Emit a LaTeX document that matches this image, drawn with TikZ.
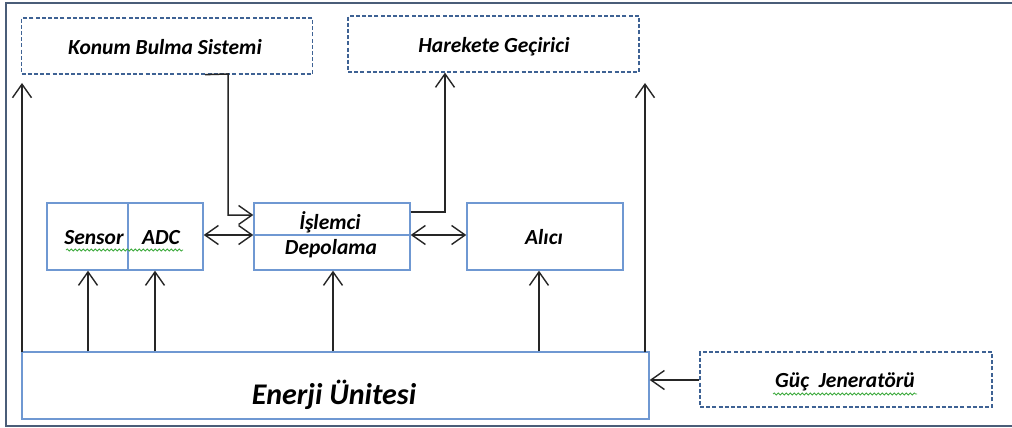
\documentclass[tikz,border=0pt]{standalone}
\usepackage{fontspec}
\setmainfont{Carlito}
\usetikzlibrary{arrows.meta,decorations.pathmorphing}

\definecolor{framecol}{HTML}{4A5D78}
\definecolor{boxcol}{HTML}{6F98D2}
\definecolor{dashcol}{HTML}{3E6294}
\definecolor{squig}{HTML}{3DAA3D}

\tikzset{
  solidbox/.style={draw=boxcol, line width=1.4pt, inner sep=0pt},
  dashbox/.style={draw=dashcol, line width=1.3pt, dash pattern=on 4pt off 2.2pt, inner sep=0pt},
  lbl/.style={font=\fontsize{21.5}{24}\selectfont\bfseries\itshape},
  conn/.style={line width=1.5pt, draw=black!85},
  barb/.tip={Straight Barb[length=13.5pt,width=19pt,line width=1.4pt]},
  tip/.style={-barb},
  dtip/.style={barb-barb},
  spell/.style={draw=squig, line width=0.8pt, decorate,
    decoration={snake, amplitude=1pt, segment length=4pt}},
}

\begin{document}
\begin{tikzpicture}[x=1pt, y=-1pt]
  \useasboundingbox (0,0) rectangle (1012,428);
  \fill[white] (0,0) rectangle (1012,428);

  % outer frame (open on the right side)
  \draw[framecol, line width=2pt] (1014,3) -- (6,3) -- (6,425.5) -- (1014,425.5);

  % dashed outer blocks
  \node[dashbox, minimum width=291pt, minimum height=56pt] (konum) at (167,46) {};
  \node[lbl] at (165,47) {Konum Bulma Sistemi};
  \node[dashbox, minimum width=291pt, minimum height=56pt] (hareket) at (493.5,44) {};
  \node[lbl] at (494,47) {Harekete Geçirici};
  \node[dashbox, minimum width=292pt, minimum height=55pt] (guc) at (846,379.5) {};
  \node[lbl] (guct) at (845,382) {Güç\ \ Jeneratörü};

  % solid blocks
  \node[solidbox, minimum width=81pt, minimum height=67pt] (sensor) at (87.5,236.5) {};
  \node[solidbox, minimum width=75pt, minimum height=67pt] (adc) at (165.5,236.5) {};
  \node[lbl] (sensort) at (94,238) {Sensor};
  \node[lbl] (adct) at (161,238) {ADC};

  \node[solidbox, minimum width=156pt, minimum height=32pt] (islem) at (332,219) {};
  \node[solidbox, minimum width=156pt, minimum height=35pt] (depo) at (332,252.5) {};
  \node[lbl] at (330,222) {İşlemci};
  \node[lbl] at (331,249) {Depolama};

  \node[solidbox, minimum width=156pt, minimum height=67pt] (alici) at (545,236.5) {};
  \node[lbl] at (544,237) {Alıcı};

  \node[solidbox, minimum width=627pt, minimum height=67pt] (enerji) at (335.5,385.5) {};
  \node[font=\fontsize{30}{34}\selectfont\bfseries\itshape] at (334,395) {Enerji Ünitesi};

  % spelling marks under some labels
  \draw[spell] (66,250) -- (183,250);
  \draw[spell] (773,394) -- (917,394);

  % power lines from the energy unit
  \coordinate (eA) at (22,352);
  \coordinate (eB) at (645,352);
  \coordinate (eAtop) at (22,83);
  \coordinate (eBtop) at (645,83);
  \draw[conn, tip] (eA) -- (eAtop);
  \draw[conn, tip] (eB) -- (eBtop);
  \draw[conn, tip] (enerji.north -| 88,0) -- (sensor.south -| 88,0);
  \draw[conn, tip] (enerji.north -| 155,0) -- (adc.south -| 155,0);
  \draw[conn, tip] (enerji.north -| 333,0) -- (depo.south -| 333,0);
  \draw[conn, tip] (enerji.north -| 539,0) -- (alici.south -| 539,0);

  % generator feeds the energy unit
  \draw[conn, tip] (guc.west |- 0,380) -- (enerji.east |- 0,380);

  % data links
  \draw[conn, dtip] (adc.east |- 0,235) -- (islem.west |- 0,235);
  \draw[conn, dtip] (islem.east |- 0,235) -- (alici.west |- 0,235);

  % positioning system to processor
  \draw[conn, tip] (konum.south -| 205,0) -- (228,74) -- (228,215) -- (islem.west |- 0,215);

  % processor to actuator
  \draw[conn, tip] (islem.east |- 0,212) -- (445,212) -- (hareket.south -| 445,0);
\end{tikzpicture}
\end{document}
